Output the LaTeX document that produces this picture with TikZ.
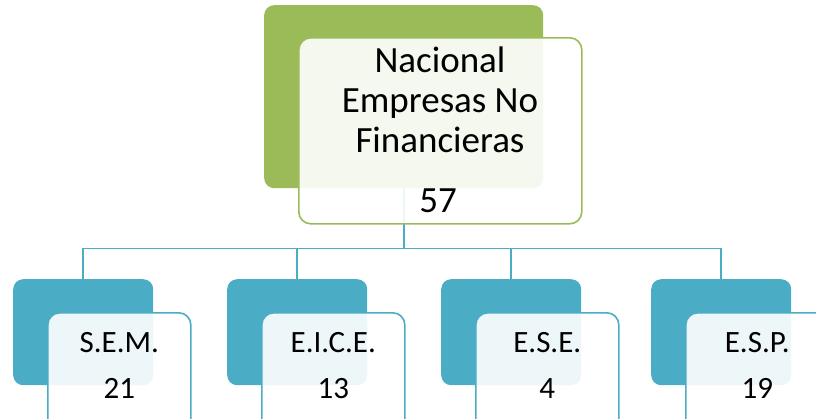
\documentclass[tikz,border=0pt]{standalone}
\usepackage{fontspec}
\setmainfont{Carlito}
\usepackage{xcolor}
\usepackage{tikz}
\usetikzlibrary{positioning}
\definecolor{org_green}{RGB}{155,187,89}
\definecolor{org_aqua}{RGB}{75,172,198}

\begin{document}
\begin{tikzpicture}[x=1pt, y=-1pt,
    backbox/.style={rounded corners=10pt, inner sep=0pt, anchor=north west},
    frontbox/.style={rounded corners=12pt, inner sep=0pt, anchor=north west,
      fill=white, fill opacity=0.9, line width=1.6pt},
    link/.style={draw=org_aqua, line width=1.8pt},
    bigtext/.style={font=\fontsize{37}{40}\selectfont, anchor=base, align=center, inner sep=0pt},
    smalltext/.style={font=\fontsize{31}{36}\selectfont, anchor=base, inner sep=0pt}]
  \clip (0,0) rectangle (816,418);
  % top level
  \node[backbox, fill=org_green, minimum width=279pt, minimum height=183pt] (nat) at (264,5) {};
  % connectors
  \draw[link] (nat.south) -- ++(0,60) coordinate (hub);
  \foreach \i/\x in {1/13, 2/227, 3/441, 4/651} {
    \node[backbox, fill=org_aqua, minimum width=140pt, minimum height=106pt] (back\i) at (\x,279) {};
    \draw[link] (hub) -| (back\i.north);
  }
  \node[frontbox, draw=org_green, minimum width=283pt, minimum height=186pt] (natf) at (298,37) {};
  \node[bigtext] (title) at (440,152) {Nacional\\Empresas No\\Financieras};
  \node[bigtext] (total) at (438,212) {57};
  % second level
  \foreach \i/\lbl/\num in {1/S.E.M./21, 2/E.I.C.E./13, 3/E.S.E./4, 4/E.S.P./19} {
    \node[frontbox, draw=org_aqua, minimum width=143pt, minimum height=130pt] (front\i)
      at ([xshift=34pt, yshift=-33pt]back\i.north west) {};
    \node[smalltext] (lbl\i) at ([yshift=-40pt]front\i.north) {\lbl};
    \node[smalltext] (num\i) at ([yshift=-86pt]front\i.north) {\num};
  }
\end{tikzpicture}
\end{document}
